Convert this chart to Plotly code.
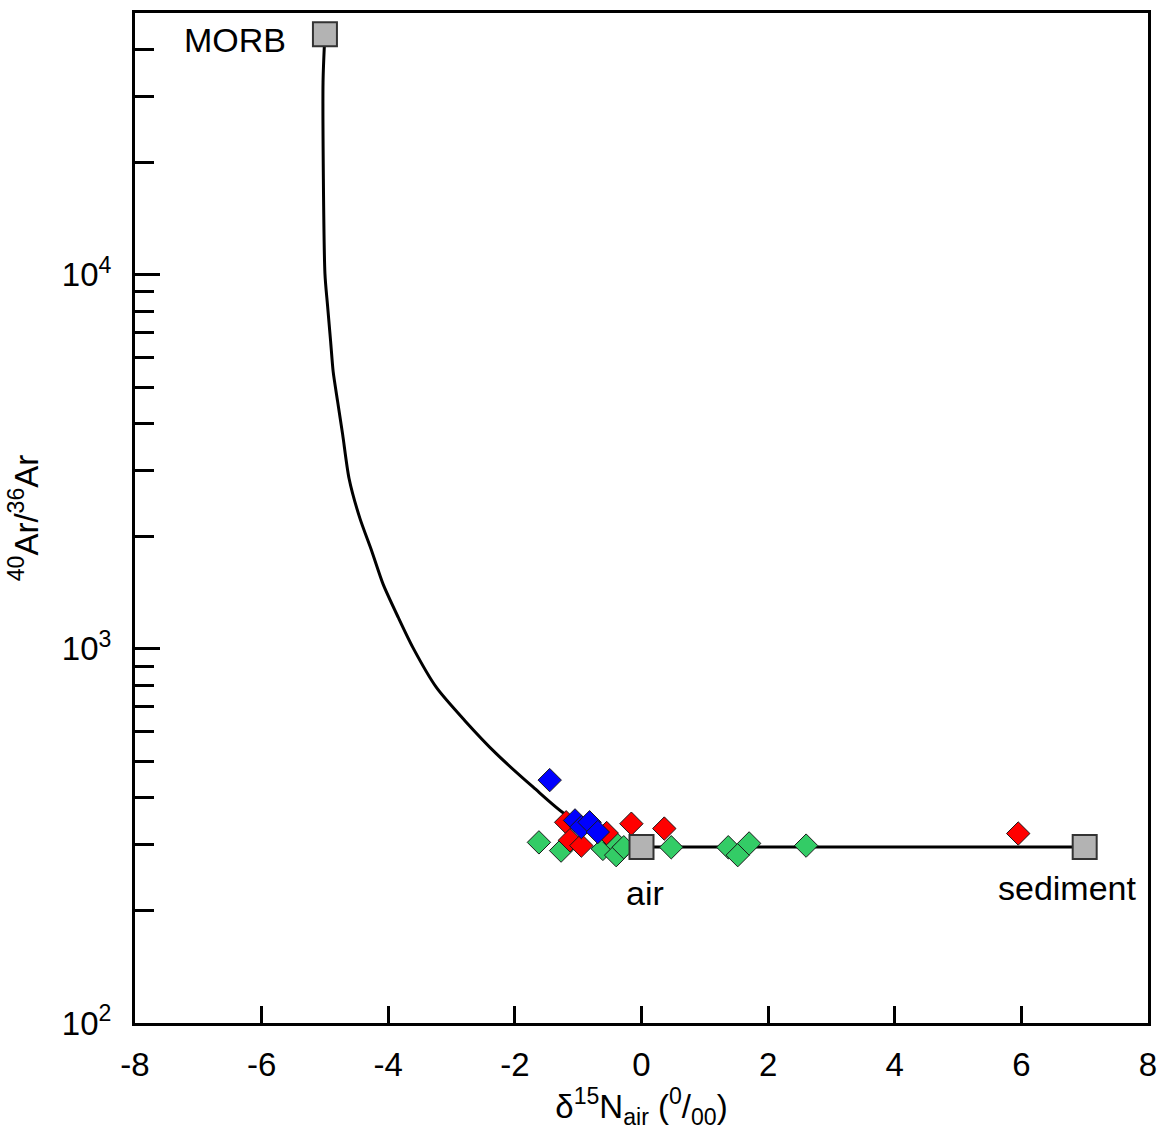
import plotly.graph_objects as go

# Mixing curve: MORB -> air
curve_x = [-5.0, -5.03, -5.0, -4.96, -4.91, -4.87, -4.80, -4.72, -4.62, -4.45, -4.26, -4.08,
           -3.84, -3.61, -3.24, -2.79, -2.29, -1.71, -1.21, -0.60, 0.0]
curve_y = [44000, 32700, 10080, 8320, 6630, 5510, 4590, 3740, 2860, 2240, 1825, 1488,
           1212, 1008, 789, 643, 524, 427, 362, 322, 295.5]

# Mixing line: air -> sediment
line_x = [0.0, 7.0]
line_y = [295.5, 295.5]

# End members
end_x = [-5.0, 0.0, 7.0]
end_y = [44000, 295.5, 295.5]

# Samples
green_x = [-1.62, -1.27, -0.61, -0.42, -0.40, -0.28, 0.47, 1.37, 1.52, 1.70, 2.60]
green_y = [304, 289, 292, 304, 281, 295, 295, 295, 281, 302, 298]

red_x = [-1.19, -1.13, -0.95, -0.55, -0.16, 0.36, 5.95]
red_y = [344, 308, 298, 322, 341, 331, 321]

blue_x = [-1.45, -1.05, -0.95, -0.82, -0.69]
blue_y = [446, 348, 334, 344, 324]

xtick_vals = [-8, -6, -4, -2, 0, 2, 4, 6, 8]
xtick_text = ["-8", "-6", "-4", "-2", "0", "2", "4", "6", "8"]
ytick_vals = [100, 1000, 10000]
ytick_text = ["10<sup>2</sup>", "10<sup>3</sup>", "10<sup>4</sup>"]
yminor_vals = [v * m for v in (100, 1000, 10000) for m in range(2, 10) if v * m <= 50000]

FONT = "Liberation Sans, Arial, sans-serif"

fig = go.Figure()
fig.add_trace(go.Scatter(x=curve_x, y=curve_y, mode="lines",
                         line=dict(color="black", width=3, shape="spline", smoothing=0.7),
                         hoverinfo="skip"))
fig.add_trace(go.Scatter(x=line_x, y=line_y, mode="lines",
                         line=dict(color="black", width=3), hoverinfo="skip"))
fig.add_trace(go.Scatter(x=green_x, y=green_y, mode="markers",
                         marker=dict(symbol="diamond", size=18, color="#33cc66",
                                     line=dict(color="#1a1a1a", width=1))))
fig.add_trace(go.Scatter(x=red_x, y=red_y, mode="markers",
                         marker=dict(symbol="diamond", size=18, color="#ff0000",
                                     line=dict(color="#1a1a1a", width=1))))
fig.add_trace(go.Scatter(x=blue_x, y=blue_y, mode="markers",
                         marker=dict(symbol="diamond", size=18, color="#0000ff",
                                     line=dict(color="#1a1a1a", width=1))))
fig.add_trace(go.Scatter(x=end_x, y=end_y, mode="markers",
                         marker=dict(symbol="square", size=24, color="#b3b3b3",
                                     line=dict(color="#333333", width=2))))

fig.add_annotation(x=-6.42, y=4.629, xref="x", yref="y", text="MORB", showarrow=False,
                   font=dict(family=FONT, size=34, color="black"), xanchor="center", yanchor="middle")
fig.add_annotation(x=0.05, y=2.347, xref="x", yref="y", text="air", showarrow=False,
                   font=dict(family=FONT, size=34, color="black"), xanchor="center", yanchor="middle")
fig.add_annotation(x=6.73, y=2.36, xref="x", yref="y", text="sediment", showarrow=False,
                   font=dict(family=FONT, size=34, color="black"), xanchor="center", yanchor="middle")

fig.update_layout(
    width=1170, height=1131,
    margin=dict(l=135, r=22, t=10, b=108),
    paper_bgcolor="white", plot_bgcolor="white",
    showlegend=False,
    font=dict(family=FONT, size=32, color="black"),
)
fig.update_xaxes(
    range=[-8, 8], tickvals=xtick_vals, ticktext=xtick_text,
    ticks="inside", ticklen=17, tickwidth=3, tickcolor="black",
    showline=True, linewidth=3, linecolor="black", mirror=True,
    showgrid=False, zeroline=False,
    tickfont=dict(family=FONT, size=33), ticklabelstandoff=10,
    title=dict(text="δ<sup>15</sup>N<sub>air</sub> (<sup>0</sup>/<sub>00</sub>)",
               font=dict(family=FONT, size=33), standoff=14),
)
fig.update_yaxes(
    type="log", range=[2, 4.7],
    tickvals=ytick_vals, ticktext=ytick_text,
    ticks="inside", ticklen=25, tickwidth=3, tickcolor="black",
    minor=dict(tickvals=yminor_vals, ticks="inside", ticklen=19, tickwidth=3,
               tickcolor="black", showgrid=False),
    showline=True, linewidth=3, linecolor="black", mirror=True,
    showgrid=False, zeroline=False,
    tickfont=dict(family=FONT, size=33), ticklabelstandoff=14,
    title=dict(text="<sup>40</sup>Ar/<sup>36</sup>Ar", font=dict(family=FONT, size=33), standoff=14),
)

fig.write_html("out.html")
